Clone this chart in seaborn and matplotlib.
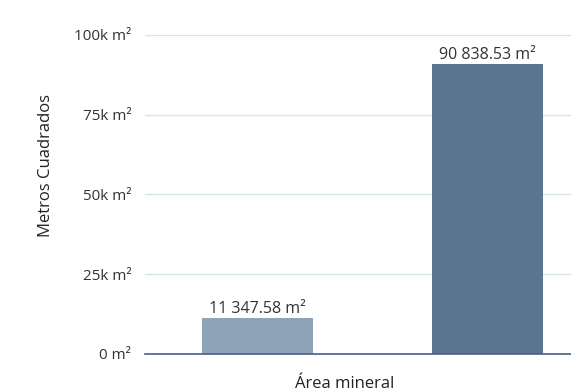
import matplotlib
matplotlib.use("Agg")
import matplotlib.pyplot as plt
import seaborn as sns
import pandas as pd
from matplotlib.ticker import FuncFormatter

# data
series = ["Serie A", "Serie B"]
values = [11347.58, 90838.53]
bar_colors = ["#8fa3b8", "#5b7490"]
y_ticks = [0, 25000, 50000, 75000, 100000]

sns.set_theme(style="white")
plt.rcParams["font.family"] = ["Open Sans", "DejaVu Sans"]

df = pd.DataFrame({"serie": series, "valor": values})

fig = plt.figure(figsize=(5.71, 3.92), dpi=100)
ax = fig.add_axes([0.254, 0.097, 0.746, 0.814])

sns.barplot(data=df, x="serie", y="valor", hue="serie", palette=bar_colors,
            width=0.48, saturation=1, legend=False, ax=ax, zorder=3,
            linewidth=0)

ax.set_ylim(0, 100000)
ax.set_xlim(-0.489, 1.363)
ax.set_yticks(y_ticks)
ax.yaxis.set_major_formatter(FuncFormatter(lambda v, p: f"{int(v/1000)}k m²" if v else "0 m²"))
ax.tick_params(axis="y", length=0, pad=10, labelsize=11, labelcolor="#333333")
ax.set_xticks([])
ax.grid(axis="y", color="#d5e5e8", linewidth=1, zorder=0)

for s in ["top", "right", "left"]:
    ax.spines[s].set_visible(False)
ax.spines["bottom"].set_color("#4a5e8c")
ax.spines["bottom"].set_linewidth(1.2)
ax.spines["bottom"].set_zorder(4)

def fmt(v):
    return f"{v:,.2f}".replace(",", " ") + " m²"

for i, v in enumerate(values):
    ax.text(i, v + 250, fmt(v), ha="center", va="bottom", fontsize=11.5, color="#333333")

ax.set_ylabel("Metros Cuadrados", fontsize=12, color="#222222")
ax.yaxis.set_label_coords(-0.213, 0.59)
ax.set_xlabel("Área mineral", fontsize=12, color="#222222")
ax.xaxis.set_label_coords(0.469, -0.07)

fig.savefig("out.png", dpi=100)
